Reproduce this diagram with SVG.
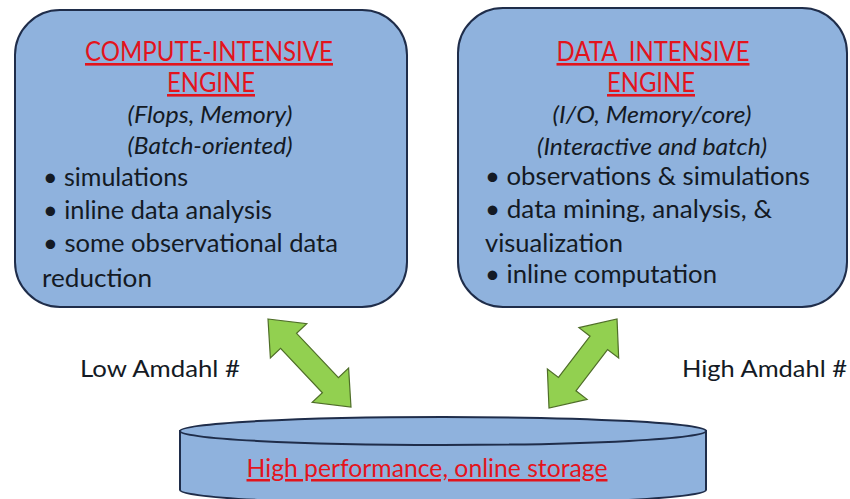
<svg xmlns="http://www.w3.org/2000/svg" width="850" height="499" viewBox="0 0 850 499">
<style>
.box{fill:#8FB2DD;stroke:#1f2d4a;stroke-width:2}
.t{font-family:Lato,"Open Sans","Liberation Sans",sans-serif;fill:#141a24}
.h{font-size:26px;fill:#e3141c;text-decoration:underline;text-anchor:middle}
.i{font-size:24px;font-style:italic;text-anchor:middle}
.b{font-size:25px}
.lab{font-size:24px}
.arr{fill:#92D050;stroke:#4f6e28;stroke-width:1.2;stroke-linejoin:miter}
</style>
<rect width="850" height="499" fill="#ffffff"/>
<g id="compute-engine">
<rect class="box" x="15" y="10" width="392" height="297" rx="45" ry="45"/>
<text class="t h" x="209" y="61" textLength="248" lengthAdjust="spacingAndGlyphs">COMPUTE-INTENSIVE</text>
<text class="t h" x="211" y="92" textLength="88" lengthAdjust="spacingAndGlyphs">ENGINE</text>
<text class="t i" x="210" y="123" textLength="165" lengthAdjust="spacingAndGlyphs">(Flops, Memory)</text>
<text class="t i" x="210" y="154" textLength="165" lengthAdjust="spacingAndGlyphs">(Batch-oriented)</text>
<text class="t b" x="43" y="186" textLength="145" lengthAdjust="spacingAndGlyphs">• simulations</text>
<text class="t b" x="43" y="219" textLength="229" lengthAdjust="spacingAndGlyphs">• inline data analysis</text>
<text class="t b" x="43" y="252" textLength="295" lengthAdjust="spacingAndGlyphs">• some observational data</text>
<text class="t b" x="42" y="287" textLength="110" lengthAdjust="spacingAndGlyphs">reduction</text>
</g>
<g id="data-engine">
<rect class="box" x="458" y="8" width="389" height="299" rx="45" ry="45"/>
<text class="t h" x="653" y="61" xml:space="preserve" textLength="193" lengthAdjust="spacingAndGlyphs">DATA  INTENSIVE</text>
<text class="t h" x="651" y="92" textLength="88" lengthAdjust="spacingAndGlyphs">ENGINE</text>
<text class="t i" x="652" y="123" textLength="199" lengthAdjust="spacingAndGlyphs">(I/O, Memory/core)</text>
<text class="t i" x="652" y="155" textLength="230" lengthAdjust="spacingAndGlyphs">(Interactive and batch)</text>
<text class="t b" x="485" y="185" textLength="325" lengthAdjust="spacingAndGlyphs">• observations &amp; simulations</text>
<text class="t b" x="485" y="218" textLength="287" lengthAdjust="spacingAndGlyphs">• data mining, analysis, &amp;</text>
<text class="t b" x="485" y="252" textLength="138" lengthAdjust="spacingAndGlyphs">visualization</text>
<text class="t b" x="485" y="283" textLength="232" lengthAdjust="spacingAndGlyphs">• inline computation</text>
</g>
<g id="storage">
<path class="box" d="M180,431 L180,490 A263,14 0 0 0 706,490 L706,431 Z"/>
<ellipse class="box" cx="443" cy="431" rx="263" ry="14"/>
<text class="t h" x="427" y="477" style="font-size:25px" textLength="361" lengthAdjust="spacingAndGlyphs">High performance, online storage</text>
</g>
<g id="labels">
<text class="t lab" x="80" y="377" textLength="160" lengthAdjust="spacingAndGlyphs">Low Amdahl #</text>
<text class="t lab" x="682" y="377" textLength="165" lengthAdjust="spacingAndGlyphs">High Amdahl #</text>
</g>
<g id="connectors">
<polygon class="arr" transform="translate(268,319) rotate(46.7)" points="0,0 30,-25 30,-11 91,-11 91,-25 121,0 91,25 91,11 30,11 30,25"/>
<polygon class="arr" transform="translate(549,408) rotate(-52.6)" points="0,0 30,-25 30,-11 82,-11 82,-25 112,0 82,25 82,11 30,11 30,25"/>
</g>
</svg>
